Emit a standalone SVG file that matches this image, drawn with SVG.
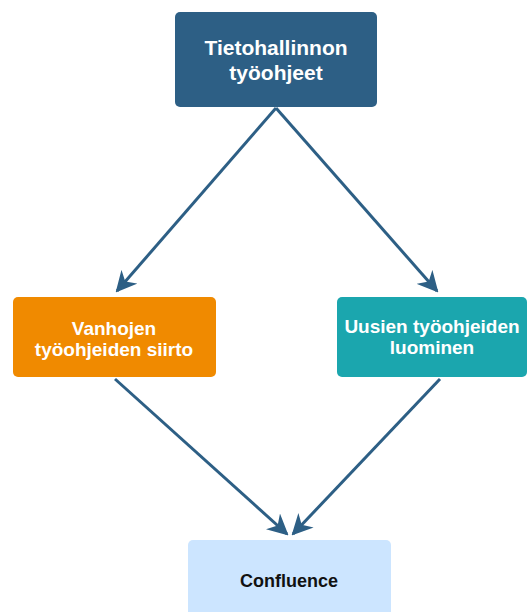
<svg xmlns="http://www.w3.org/2000/svg" width="528" height="612" viewBox="0 0 528 612">
  <style>
    .lbl { font-family: "Liberation Sans", Arial, sans-serif; font-weight: bold; text-anchor: middle; }
    .w { fill: #ffffff; }
    .edge { fill: none; stroke: #2d5f85; stroke-width: 3; marker-end: url(#arr); }
  </style>
  <defs>
    <marker id="arr" viewBox="0 0 10 10" refX="9" refY="5" markerWidth="7" markerHeight="7" markerUnits="strokeWidth" orient="auto">
      <path d="M0,0 L10,5 L0,10 L3,5 z" fill="#2d5f85"/>
    </marker>
  </defs>
  <rect width="528" height="612" fill="#ffffff"/>
  <g id="connectors">
    <line class="edge" x1="276" y1="108" x2="117" y2="291"/>
    <line class="edge" x1="276" y1="108" x2="437" y2="291"/>
    <line class="edge" x1="115" y1="379" x2="287" y2="534"/>
    <line class="edge" x1="440" y1="379" x2="293" y2="534"/>
  </g>
  <g id="node-tietohallinnon">
    <rect x="175" y="12" width="202" height="95" rx="5" fill="#2d5f85"/>
    <text class="lbl w" x="276" y="55" font-size="21">Tietohallinnon</text>
    <text class="lbl w" x="276" y="80" font-size="21">työohjeet</text>
  </g>
  <g id="node-vanhojen">
    <rect x="13" y="297" width="203" height="80" rx="5" fill="#f08a00"/>
    <text class="lbl w" x="114" y="335" font-size="19">Vanhojen</text>
    <text class="lbl w" x="114" y="356" font-size="19">työohjeiden siirto</text>
  </g>
  <g id="node-uusien">
    <rect x="337" y="297" width="190" height="80" rx="5" fill="#1ba6ae"/>
    <text class="lbl w" x="432" y="333" font-size="19">Uusien työohjeiden</text>
    <text class="lbl w" x="432" y="354" font-size="19">luominen</text>
  </g>
  <g id="node-confluence">
    <rect x="188" y="540" width="203" height="80" rx="5" fill="#cce5ff"/>
    <text class="lbl" x="289" y="587" font-size="18" fill="#111111">Confluence</text>
  </g>
</svg>
